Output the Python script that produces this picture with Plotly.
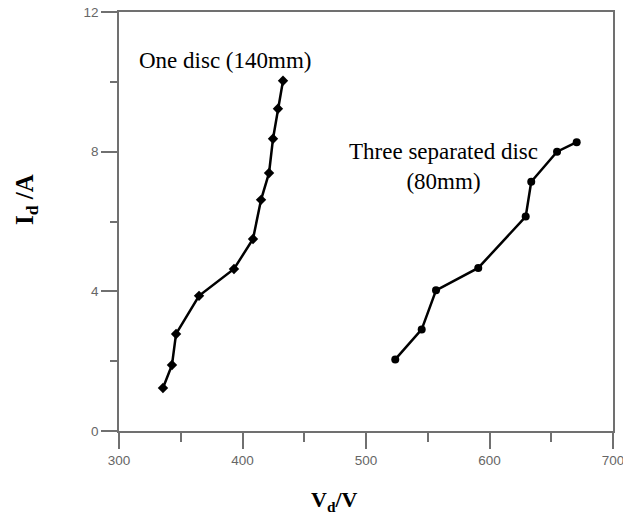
import plotly.graph_objects as go

# One disc (140mm)
v_one = [335.6, 342.9, 346.2, 364.8, 393.1, 408.5, 415.0, 421.5, 424.7, 428.7, 432.8]
i_one = [1.23, 1.89, 2.78, 3.87, 4.64, 5.50, 6.62, 7.39, 8.37, 9.23, 10.03]

# Three separated disc (80mm)
v_three = [523.7, 545.1, 556.7, 590.9, 629.3, 633.8, 654.7, 670.6]
i_three = [2.05, 2.91, 4.03, 4.67, 6.14, 7.14, 8.00, 8.27]

x_ticks = [300, 400, 500, 600, 700]
y_ticks = [0, 4, 8, 12]

W, H = 623, 517
L, R, T, B = 119, 10, 12, 86
pw, ph = W - L - R, H - T - B


def px(xp):
    return (xp - L) / pw


def py(yp):
    return (H - B - yp) / ph


fig = go.Figure()
fig.add_trace(go.Scatter(x=v_one, y=i_one, mode="lines+markers",
                         line=dict(color="black", width=2.5),
                         marker=dict(symbol="diamond", size=8, color="black"),
                         showlegend=False))
fig.add_trace(go.Scatter(x=v_three, y=i_three, mode="lines+markers",
                         line=dict(color="black", width=2.5),
                         marker=dict(symbol="circle", size=8, color="black"),
                         showlegend=False))

axis_common = dict(showline=True, linecolor="#707070", linewidth=1.5, mirror=True,
                   showgrid=False, zeroline=False, ticks="outside", ticklen=16,
                   tickcolor="#707070", tickwidth=1.5, automargin=False,
                   ticklabeloverflow="allow",
                   tickfont=dict(family="Liberation Sans", size=13.5, color="#666666"))

fig.update_xaxes(range=[300, 700], tickvals=x_ticks,
                 minor=dict(dtick=50, ticks="outside", ticklen=9, tickcolor="#707070", tickwidth=1.5),
                 **axis_common)
fig.update_yaxes(range=[0, 12], tickvals=y_ticks,
                 minor=dict(dtick=2, ticks="outside", ticklen=7, tickcolor="#707070", tickwidth=1.5),
                 **axis_common)

serif = "Liberation Serif"
common = dict(xref="paper", yref="paper", xanchor="center", yanchor="middle", showarrow=False)
annotations = [
    dict(x=px(225), y=py(60), text="One disc (140mm)",
         font=dict(family=serif, size=23, color="black"), **common),
    dict(x=px(443), y=py(166.5), text="Three separated disc<br>(80mm)", align="center",
         font=dict(family=serif, size=23, color="black"), **common),
    dict(x=px(26), y=py(200), text="<b>I<sub>d</sub> /A</b>", textangle=-90,
         font=dict(family=serif, size=25, color="black"), **common),
    dict(x=px(334), y=py(501), text="<b>V<sub>d</sub>/V</b>",
         font=dict(family=serif, size=22, color="black"), **common),
]

fig.update_layout(width=W, height=H, margin=dict(l=L, r=R, t=T, b=B, autoexpand=False),
                  plot_bgcolor="white", paper_bgcolor="white", annotations=annotations)

fig.write_html("out.html", config={"displayModeBar": False},
               post_script="document.body.style.margin='0';document.body.style.overflow='hidden';")
